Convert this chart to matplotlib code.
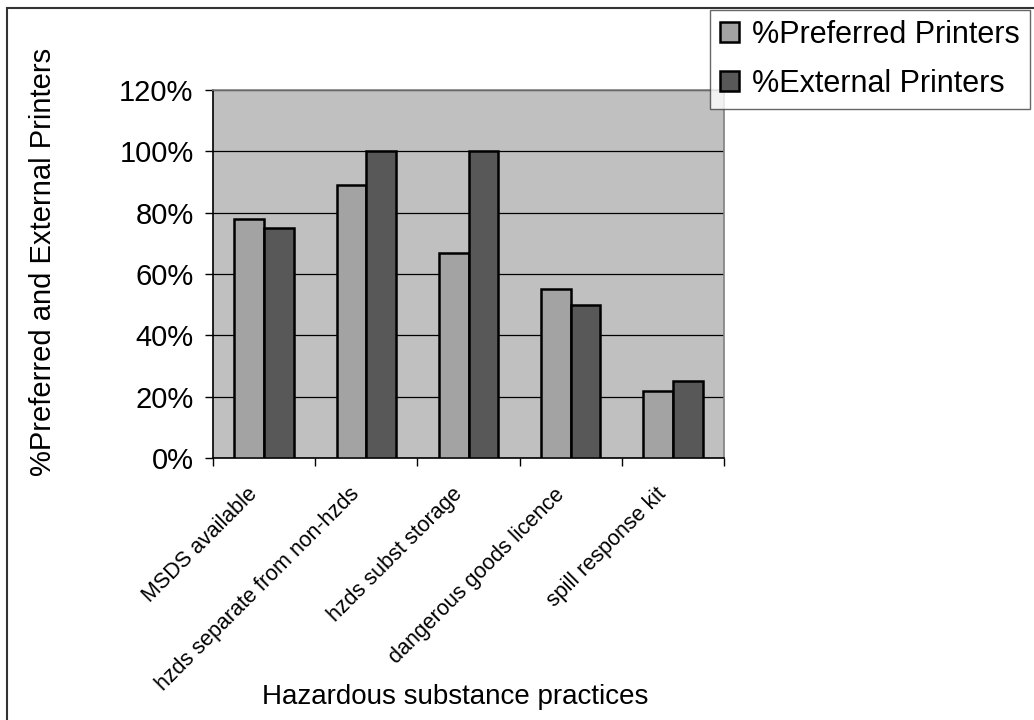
import matplotlib
matplotlib.use("Agg")
import matplotlib.pyplot as plt
import matplotlib.transforms as mtransforms
import numpy as np
from matplotlib.patches import Rectangle

plt.rcParams['font.family'] = ['Liberation Sans', 'DejaVu Sans']

# practices surveyed
practices = ["MSDS available", "hzds separate from non-hzds", "hzds subst storage",
             "dangerous goods licence", "spill response kit"]
pct_preferred = [78, 89, 67, 55, 22]
pct_external = [75, 100, 100, 50, 25]
series_names = ["%Preferred Printers", "%External Printers"]
yticks = [0, 20, 40, 60, 80, 100, 120]

W, H = 1034, 720
fig = plt.figure(figsize=(W / 100, H / 100), dpi=100)
fig.patch.set_facecolor("white")

# plot area in pixel coords
left, right, top, bottom = 213, 724, 90, 458
ax = fig.add_axes([left / W, 1 - bottom / H, (right - left) / W, (bottom - top) / H])
ax.set_facecolor("#c0c0c0")

x = np.arange(len(practices))
bw = 0.29
ax.bar(x - bw / 2, pct_preferred, bw, color="#a3a3a3", edgecolor="black", linewidth=1.8,
       label=series_names[0], zorder=3)
ax.bar(x + bw / 2, pct_external, bw, color="#585858", edgecolor="black", linewidth=1.8,
       label=series_names[1], zorder=3)

ax.set_xlim(-0.5, len(practices) - 0.5)
ax.set_ylim(0, 120)
ax.set_yticks(yticks)
ax.set_yticklabels([f"{v}%" for v in yticks], fontsize=21)
ax.yaxis.grid(True, color="black", linewidth=0.9, zorder=1)
ax.set_axisbelow(True)

ax.set_xticks(np.arange(len(practices) + 1) - 0.5, minor=False)
ax.set_xticklabels([])
ax.set_xticks(x, minor=True)
ax.set_xticklabels(practices, minor=True, rotation=45, ha="right", va="top",
                   rotation_mode="anchor", fontsize=15.5)
ax.tick_params(axis="x", which="minor", length=0, pad=10)
ax.tick_params(axis="x", which="major", length=6, width=1, direction="out")
ax.tick_params(axis="y", length=6, width=1, direction="out", pad=8)

# nudge the slanted category labels left and down
shift = mtransforms.ScaledTranslation(-17 / 100, -12 / 100, fig.dpi_scale_trans)
for lbl in ax.get_xticklabels(minor=True):
    lbl.set_transform(lbl.get_transform() + shift)

for s in ["top", "right"]:
    ax.spines[s].set_color("#808080")
    ax.spines[s].set_linewidth(1.2)
for s in ["left", "bottom"]:
    ax.spines[s].set_color("black")
    ax.spines[s].set_linewidth(1.2)

fig.text(455 / W, 1 - 697 / H, "Hazardous substance practices", fontsize=20,
         ha="center", va="center")
fig.text(43 / W, 1 - 262 / H, "%Preferred and External Printers", fontsize=21,
         ha="center", va="center", rotation=90)

leg = fig.legend(loc="upper right", bbox_to_anchor=(1030 / W, 1 - 10 / H), fontsize=22,
                 frameon=True, fancybox=False, edgecolor="#404040", handlelength=0.62,
                 handleheight=0.62, handletextpad=0.45, borderpad=0.32, labelspacing=0.62,
                 borderaxespad=0)
leg.get_frame().set_linewidth(1.0)
for h in leg.legend_handles:
    h.set_linewidth(1.8)

# outer chart border
fig.patches.append(Rectangle((7 / W, -0.1), 1.2, 1 - 8 / H + 0.1, transform=fig.transFigure,
                             fill=False, edgecolor="#333333", linewidth=1.5))

fig.savefig("out.png", dpi=100)
